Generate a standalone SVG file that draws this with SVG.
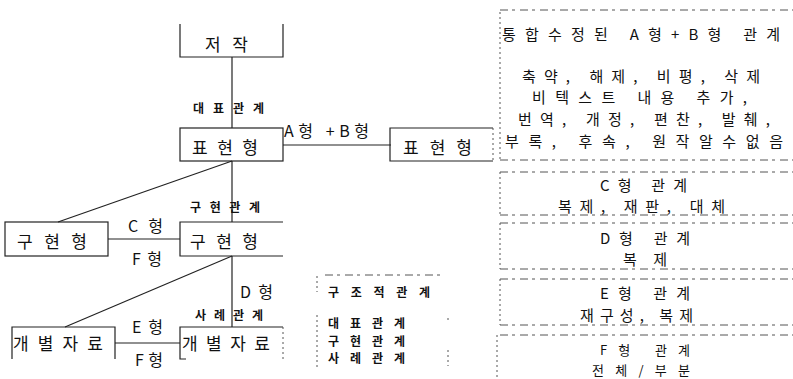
<svg xmlns="http://www.w3.org/2000/svg" width="793" height="379" viewBox="0 0 793 379">
<style>
text{font-family:"Noto Sans CJK KR","Liberation Sans",sans-serif;fill:#111}
.n{font-size:17px}
.s{font-size:12px;font-weight:bold}
.l{font-size:16px}
.r{font-size:15px}
.t{font-size:13px}
.box{fill:none;stroke:#222;stroke-width:1.2}
.c{stroke:#222;stroke-width:1.2;fill:none}
.d{stroke:#555;stroke-width:1;stroke-dasharray:8 4 3 5;fill:none}
.d2{stroke:#555;stroke-width:1;stroke-dasharray:2 3;fill:none}
</style>
<rect width="793" height="379" fill="#fff"/>
<g id="connectors">
<line class="c" x1="232" y1="57" x2="232" y2="128"/>
<line class="c" x1="283" y1="145" x2="391" y2="145"/>
<line class="c" x1="232" y1="161" x2="232" y2="222"/>
<line class="c" x1="232" y1="161" x2="58" y2="222"/>
<line class="c" x1="108" y1="239" x2="180" y2="239"/>
<line class="c" x1="232" y1="256" x2="232" y2="327"/>
<line class="c" x1="232" y1="256" x2="65" y2="327"/>
<line class="c" x1="115" y1="343" x2="180" y2="343"/>
</g>
<g id="labels">
<text class="s" x="193" y="113" textLength="71" lengthAdjust="spacing">대표관계</text>
<text class="l" x="284" y="137" textLength="85" lengthAdjust="spacing">A형 +B형</text>
<text class="s" x="190" y="212" textLength="70" lengthAdjust="spacing">구현관계</text>
<text class="l" x="128" y="232" textLength="35" lengthAdjust="spacing">C형</text>
<text class="l" x="132" y="265" textLength="30" lengthAdjust="spacing">F형</text>
<text class="l" x="240" y="298" textLength="33" lengthAdjust="spacing">D형</text>
<text class="s" x="195" y="320" textLength="68" lengthAdjust="spacing">사례관계</text>
<text class="l" x="132" y="333" textLength="31" lengthAdjust="spacing">E형</text>
<text class="l" x="135" y="366" textLength="28" lengthAdjust="spacing">F형</text>
</g>
<g id="n-jeojak">
<path class="box" d="M180,24 V57 H283 V24"/>
<text class="n" x="205" y="51" font-size="19" textLength="43" lengthAdjust="spacing">저작</text>
</g>
<g id="n-pyohyeon1">
<rect class="box" x="180" y="128" width="103" height="33"/>
<text class="n" x="192" y="154" textLength="66" lengthAdjust="spacing">표현형</text>
</g>
<g id="n-pyohyeon2">
<path class="box" d="M493,128 H390 V161 H493"/>
<path class="d2" d="M493,128 V161"/>
<text class="n" x="403" y="154" textLength="69" lengthAdjust="spacing">표현형</text>
</g>
<g id="n-guhyeon-left">
<rect class="box" x="5" y="222" width="103" height="34"/>
<text class="n" x="17" y="248" textLength="70" lengthAdjust="spacing">구현형</text>
</g>
<g id="n-guhyeon-mid">
<path class="box" d="M283,222 H180 V256 H283"/>
<text class="n" x="190" y="248" textLength="68" lengthAdjust="spacing">구현형</text>
</g>
<g id="n-gaebyeol-left">
<path class="box" d="M12,359 V327 H115 V359"/>
<text class="n" x="13" y="350" textLength="90" lengthAdjust="spacing">개별자료</text>
</g>
<g id="n-gaebyeol-right">
<path class="box" d="M186,359 H180 V327 H283"/>
<path class="d2" d="M283,327 V360"/>
<text class="n" x="182" y="350" textLength="88" lengthAdjust="spacing">개별자료</text>
</g>
<g id="legend">
<path class="d" d="M325,275 H440"/>
<path class="d2" d="M317,276 V292 M317,315 V370 M448,318 V323 M448,350 V366"/>
<text class="s" x="328" y="297" textLength="102" lengthAdjust="spacing">구조적관계</text>
<text class="s" x="328" y="328" textLength="77" lengthAdjust="spacing">대표관계</text>
<text class="s" x="328" y="346" textLength="77" lengthAdjust="spacing">구현관계</text>
<text class="s" x="328" y="363" textLength="77" lengthAdjust="spacing">사례관계</text>
</g>
<g id="panel">
<path class="d" d="M500,10 H793 M500,160 H793 M500,172 H793 M500,215 H793 M500,223 H793 M500,269 H793 M500,279 H793 M500,325 H793 M500,335 H793"/>
<path class="d2" d="M500,12 V160 M500,172 V215 M500,223 V269 M500,279 V325 M497,335 V379"/>
<text class="r" x="502" y="40" font-size="16" textLength="278" lengthAdjust="spacing">통합수정된 A형+B형 관계</text>
<text class="r" x="522" y="82" textLength="238" lengthAdjust="spacing">축약, 해제, 비평, 삭제</text>
<text class="r" x="532" y="103" textLength="215" lengthAdjust="spacing">비텍스트 내용 추가,</text>
<text class="r" x="518" y="125" textLength="252" lengthAdjust="spacing">번역, 개정, 편찬, 발췌,</text>
<text class="r" x="505" y="147" textLength="278" lengthAdjust="spacing">부록, 후속, 원작알수없음</text>
<text class="r" x="600" y="191" textLength="87" lengthAdjust="spacing">C형 관계</text>
<text class="r" x="558" y="212" textLength="167" lengthAdjust="spacing">복제, 재판, 대체</text>
<text class="r" x="600" y="244" textLength="90" lengthAdjust="spacing">D형 관계</text>
<text class="r" x="623" y="265" textLength="44" lengthAdjust="spacing">복제</text>
<text class="r" x="600" y="299" textLength="90" lengthAdjust="spacing">E형 관계</text>
<text class="r" x="580" y="321" textLength="113" lengthAdjust="spacing">재구성, 복제</text>
<text class="t" x="600" y="355" textLength="90" lengthAdjust="spacing">F형 관계</text>
<text class="t" x="592" y="375" textLength="98" lengthAdjust="spacing">전체/부분</text>
</g>
</svg>
